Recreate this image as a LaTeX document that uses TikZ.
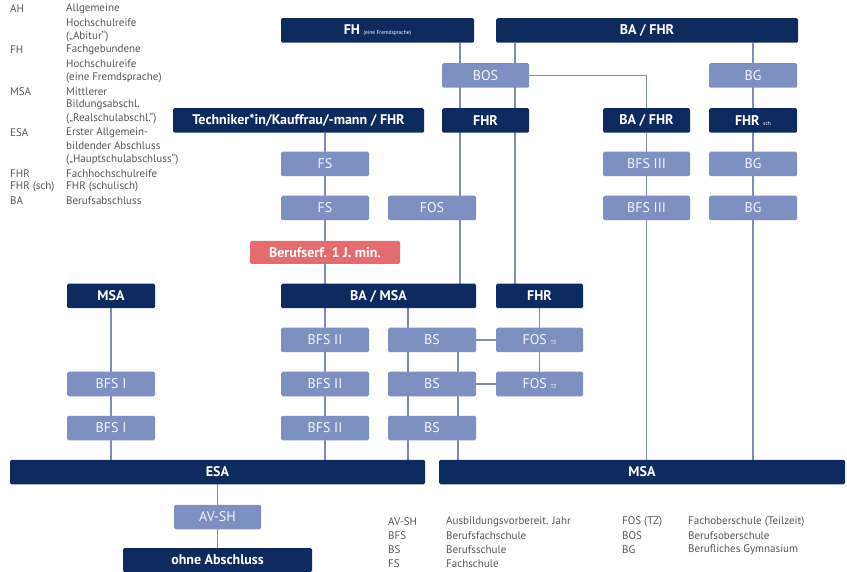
\documentclass[tikz,border=0pt]{standalone}
\usepackage{fontspec}
\setmainfont{PT Sans}
\usetikzlibrary{backgrounds}
\definecolor{navy}{HTML}{0D2B5E}
\definecolor{lite}{HTML}{7D90C2}
\definecolor{conn}{HTML}{7F8BBA}
\definecolor{redbox}{HTML}{E56C6E}
\definecolor{legtext}{HTML}{555555}
\tikzset{
  box/.style={rounded corners=1.5pt, inner sep=0pt, minimum height=24.5pt, text=white, font=\fontsize{14}{16}\selectfont},
  dark/.style={box, fill=navy, font=\fontsize{14}{16}\selectfont\bfseries},
  lite/.style={box, fill=lite, text=white!92!lite},
  redb/.style={box, fill=redbox, font=\fontsize{14}{16}\selectfont\bfseries, minimum height=23pt},
  conline/.style={draw=conn, line width=1.1pt},
  leg/.style={anchor=west, inner sep=0pt, text=legtext, font=\fontsize{11}{12}\selectfont}
}
\begin{document}
\begin{tikzpicture}[x=1pt,y=-1pt]
\useasboundingbox (0,0) rectangle (847,572);
% top row
\node[dark, minimum width=193pt] (fh) at (377.5,30.5) {FH {\fontsize{5.5}{6}\selectfont\mdseries (eine Fremdsprache)}};
\node[dark, minimum width=302pt] (bafhrT) at (647,30.5) {BA / FHR};
\node[lite, minimum width=87pt] (bos) at (485.5,75.5) {BOS};
\node[lite, minimum width=88pt] (bgT) at (753,75.5) {BG};
\node[dark, minimum width=251pt] (tech) at (298.5,120.5) {Techniker*in/Kauffrau/-mann / FHR};
\node[dark, minimum width=87pt] (fhr1) at (485.5,120.5) {FHR};
\node[dark, minimum width=87pt] (bafhrM) at (646.5,120.5) {BA / FHR};
\node[dark, minimum width=88pt] (fhrsch) at (753,120.5) {FHR {\fontsize{5.5}{6}\selectfont\mdseries sch}};
\node[lite, minimum width=88pt] (fs1) at (325,164) {FS};
\node[lite, minimum width=88pt] (fs2) at (325,208) {FS};
\node[lite, minimum width=88pt] (fos) at (432,208) {FOS};
\node[lite, minimum width=87pt] (bfs3a) at (646.5,164) {BFS III};
\node[lite, minimum width=87pt] (bfs3b) at (646.5,208) {BFS III};
\node[lite, minimum width=88pt] (bg1) at (753,164) {BG};
\node[lite, minimum width=88pt] (bg2) at (753,208) {BG};
\node[redb, minimum width=150pt] (red) at (325,252.5) {Berufserf. 1 J. min.};
\node[dark, minimum width=88pt] (msaL) at (111,296) {MSA};
\node[dark, minimum width=195pt] (bamsa) at (378.5,296) {BA / MSA};
\node[dark, minimum width=87pt] (fhr2) at (539.5,296) {FHR};
\node[lite, minimum width=88pt] (bfs2a) at (325,340) {BFS II};
\node[lite, minimum width=88pt] (bfs2b) at (325,384) {BFS II};
\node[lite, minimum width=88pt] (bfs2c) at (325,428) {BFS II};
\node[lite, minimum width=88pt] (bsa) at (432,340) {BS};
\node[lite, minimum width=88pt] (bsb) at (432,384) {BS};
\node[lite, minimum width=88pt] (bsc) at (432,428) {BS};
\node[lite, minimum width=87pt] (fostz1) at (539.5,340) {FOS {\fontsize{5.5}{6}\selectfont TZ}};
\node[lite, minimum width=87pt] (fostz2) at (539.5,384) {FOS {\fontsize{5.5}{6}\selectfont TZ}};
\node[lite, minimum width=88pt] (bfs1a) at (111,384) {BFS I};
\node[lite, minimum width=88pt] (bfs1b) at (111,428) {BFS I};
\node[dark, minimum width=415pt] (esa) at (217.5,472) {ESA};
\node[dark, minimum width=406pt] (msaB) at (642,472) {MSA};
\node[lite, minimum width=87pt] (avsh) at (217.5,517) {AV-SH};
\node[dark, minimum width=189pt, minimum height=24pt] (ohne) at (217.5,560) {ohne Abschluss};
% helper x-positions
\coordinate (x460) at (460,0);
\coordinate (x515) at (515,0);
\coordinate (x408) at (408,0);
\coordinate (x458) at (458,0);
% connectors
\begin{pgfonlayer}{background}
\draw[conline] (x460 |- fh.south) -- (x460 |- bamsa.north);
\draw[conline] (x515 |- bafhrT.south) -- (x515 |- fhr2.north);
\draw[conline] (bos.east) -| (bafhrM.north);
\draw[conline] (bgT |- bafhrT.south) -- (bgT |- msaB.north);
\draw[conline] (bafhrM.south) -- (bafhrM |- msaB.north);
\draw[conline] (fs1 |- tech.south) -- (fs1 |- bamsa.north);
\draw[conline] (bfs2a |- bamsa.south) -- (bfs2a |- esa.north);
\draw[conline] (x408 |- bamsa.south) -- (x408 |- esa.north);
\draw[conline] (x458 |- bsa.south) -- (x458 |- msaB.north);
\draw[conline] (bsa.east) -- (fostz1.west);
\draw[conline] (bsb.east) -- (fostz2.west);
\draw[conline] (fhr2.south) -- (fostz2.north);
\draw[conline] (msaL.south) -- (msaL |- esa.north);
\draw[conline] (esa.south) -- (ohne.north);
\end{pgfonlayer}
% left legend
\foreach \i/\ab/\tx in {0/AH/Allgemeine, 1//Hochschulreife, 2//{(„Abitur“)}, 3/FH/Fachgebundene, 4//Hochschulreife, 5//{(eine Fremdsprache)}, 6/MSA/Mittlerer, 7//Bildungsabschl., 8//{(„Realschulabschl.“)}, 9/ESA/Erster Allgemein-, 10//bildender Abschluss, 11//{(„Hauptschulabschluss“)}, 12/FHR/Fachhochschulreife, 13/FHR (sch)/FHR (schulisch), 14/BA/Berufsabschluss}{
  \node[leg] (la\i) at (10,{9+13.7*\i}) {\ab};
  \node[leg] (lb\i) at (66,{9+13.7*\i}) {\tx};
}
% bottom legend
\foreach \i/\ab/\tx in {0/AV-SH/Ausbildungsvorbereit. Jahr, 1/BFS/Berufsfachschule, 2/BS/Berufsschule, 3/FS/Fachschule}{
  \node[leg] (ba\i) at (388,{522+14*\i}) {\ab};
  \node[leg] (bb\i) at (446,{522+14*\i}) {\tx};
}
\foreach \i/\ab/\tx in {0/FOS (TZ)/Fachoberschule (Teilzeit), 1/BOS/Berufsoberschule, 2/BG/Berufliches Gymnasium}{
  \node[leg] (bc\i) at (622,{522+14*\i}) {\ab};
  \node[leg] (bd\i) at (688,{522+14*\i}) {\tx};
}
\end{tikzpicture}
\end{document}
